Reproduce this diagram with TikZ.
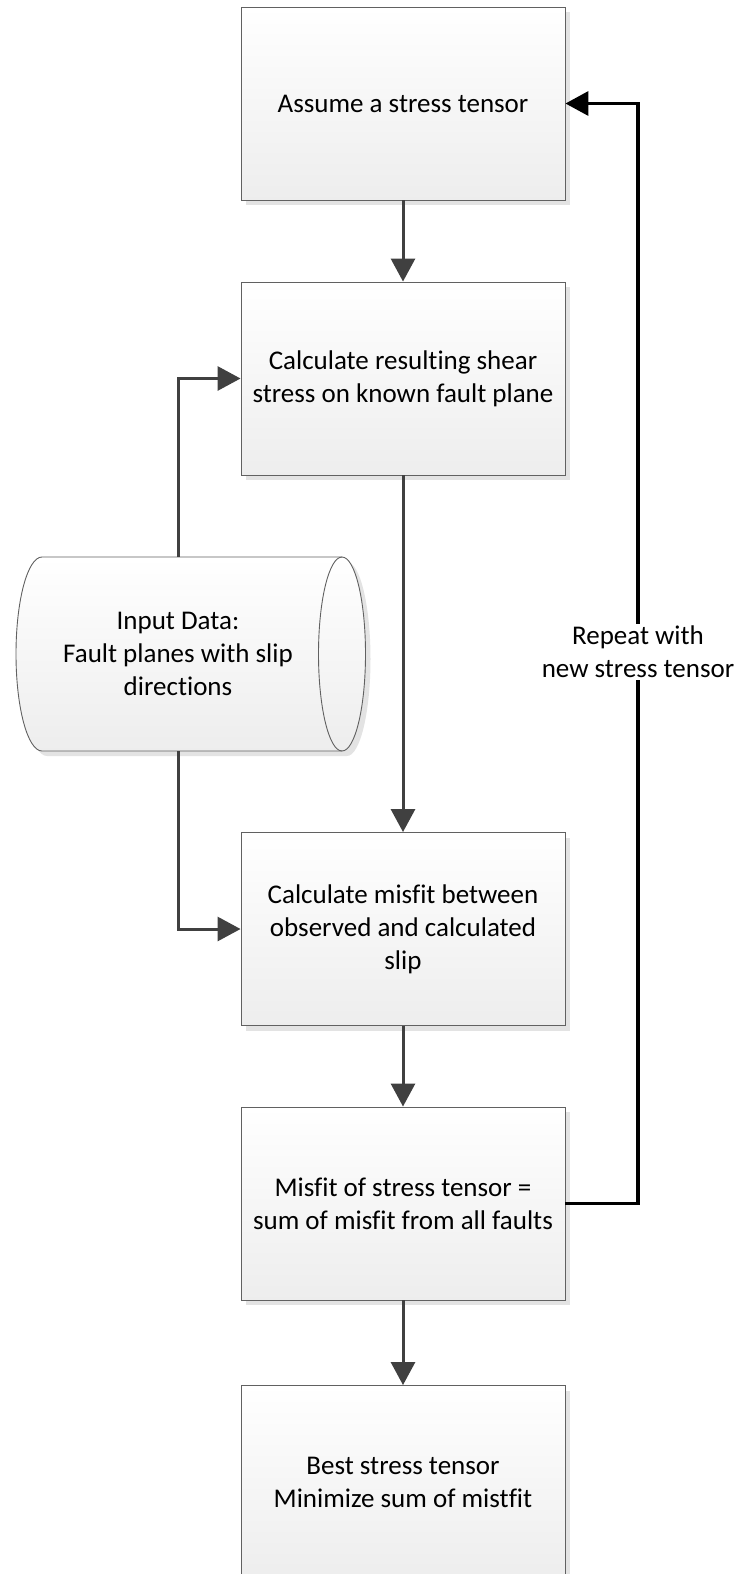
\documentclass[tikz,border=0pt]{standalone}
\usepackage{fontspec}
\setmainfont[Ligatures={NoCommon}]{Carlito}
\usetikzlibrary{arrows.meta,shadows}
\newcommand{\boxfont}{\fontsize{27}{33}\selectfont}
\begin{document}
\begin{tikzpicture}[x=1pt,y=-1pt,
  stepbox/.style={draw=black!62, line width=0.9pt, top color=white, bottom color=black!7,
    minimum width=324pt, minimum height=193pt, align=center, inner sep=0pt, font=\boxfont,
    drop shadow={shadow xshift=5pt, shadow yshift=-5pt, fill=black!11, opacity=1}},
  flow/.style={draw=black!75, line width=3pt, -{Triangle[length=23pt,width=24pt]}},
  loopback/.style={draw=black, line width=3.5pt, -{Triangle[length=23pt,width=24pt]}},
  cylface/.style={draw=black!62, line width=0.9pt, top color=white, bottom color=black!7}]
\useasboundingbox (0,0) rectangle (740,1574);

% process boxes
\node[stepbox] (b1) at (403,103.5) {Assume a stress tensor};
\node[stepbox] (b2) at (403,378.5) {Calculate resulting shear\\stress on known fault plane};
\node[stepbox] (b3) at (403,929) {Calculate misfit between\\observed and calculated\\slip};
\node[stepbox] (b4) at (403,1203.5) {Misfit of stress tensor =\\sum of misfit from all faults};
\node[stepbox] (b5) at (403,1482) {Best stress tensor\\Minimize sum of mistfit};

% stored-data cylinder (horizontal)
\fill[black!11] (47,562) -- (347,562) arc[start angle=-90, end angle=90, x radius=23.5, y radius=97]
  -- (47,756) arc[start angle=90, end angle=270, x radius=26, y radius=97] -- cycle;
\path[cylface] (42,557) -- (342,557) arc[start angle=-90, end angle=90, x radius=23.5, y radius=97]
  -- (42,751) arc[start angle=90, end angle=270, x radius=26, y radius=97] -- cycle;
\draw[draw=black!62, line width=0.9pt] (342,557) arc[start angle=-90, end angle=-270, x radius=23.5, y radius=97];
\node[minimum height=194pt, minimum width=10pt, inner sep=0pt, align=center, font=\boxfont] (inp) at (178,654)
  {Input Data:\\Fault planes with slip\\directions};

% connectors
\draw[flow] (b1) -- (b2);
\draw[flow] (b2) -- (b3);
\draw[flow] (b3) -- (b4);
\draw[flow] (b4) -- (b5);
\draw[flow] (inp.north) |- (b2.west);
\draw[flow] (inp.south) |- (b3.west);
\coordinate (turn) at (638,1203.5);
\draw[loopback] (b4.east) -- (turn) |- (b1.east);
\node[fill=white, align=center, inner sep=2pt, font=\boxfont] (rep) at (638,652) {Repeat with\\new stress tensor};
\end{tikzpicture}
\end{document}
